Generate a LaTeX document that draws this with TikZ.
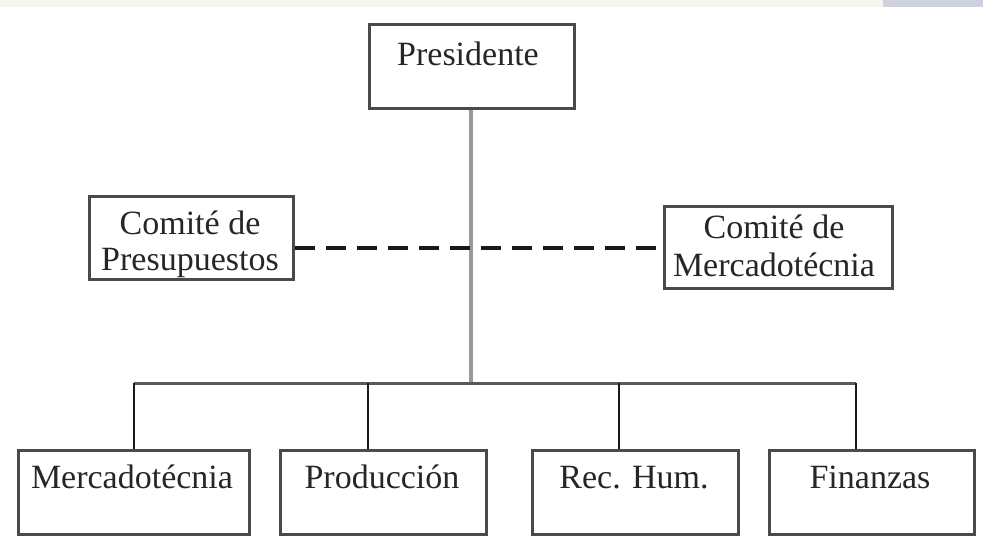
\documentclass[tikz,border=0pt]{standalone}
\usepackage{fontspec}
\setmainfont{Liberation Serif}
\definecolor{bandbeige}{HTML}{F7F4EF}
\definecolor{bandblue}{HTML}{CDD2DE}
\definecolor{boxline}{HTML}{4A4A4A}
\begin{document}
\begin{tikzpicture}[x=1pt,y=-1pt,
  box/.style={draw=boxline, line width=3pt, anchor=north west, inner sep=0pt, fill=white},
  lbl/.style={font=\fontsize{34}{38}\selectfont, anchor=base, inner sep=0pt, text=black!85},
  trunk/.style={draw=black!40, line width=3.5pt},
  wire/.style={draw=black!65, line width=3pt},
  drop/.style={draw=black!90, line width=2.8pt},
  dashline/.style={draw=black!90, line width=3.5pt, dash pattern=on 20pt off 11pt}]
\useasboundingbox (0,0) rectangle (983,538);
\fill[bandbeige] (0,0) rectangle (883,7);
\fill[bandblue] (883,0) rectangle (983,7);
% boxes
\node[box, minimum width=205pt, minimum height=84pt] (pres) at (368,23) {};
\node[box, minimum width=204pt, minimum height=83pt] (presu) at (88,195) {};
\node[box, minimum width=228pt, minimum height=82pt] (merc) at (663,205) {};
\node[box, minimum width=231pt, minimum height=84pt] (mer) at (17,449) {};
\node[box, minimum width=206pt, minimum height=84pt] (prod) at (279,449) {};
\node[box, minimum width=206pt, minimum height=84pt] (rh) at (531,449) {};
\node[box, minimum width=205pt, minimum height=84pt] (fin) at (768,449) {};
% texts
\node[lbl] (tpres) at (468,65) {Presidente};
\node[lbl] (tpresu1) at (190,234) {Comité de};
\node[lbl] (tpresu2) at (190,270) {Presupuestos};
\node[lbl] (tmerc1) at (774,238) {Comité de};
\node[lbl] (tmerc2) at (774,276) {Mercadotécnia};
\node[lbl] (tmer) at (132,488) {Mercadotécnia};
\node[lbl] (tprod) at (382,488) {Producción};
\node[lbl] (trh) at (634,488) {Rec. Hum.};
\node[lbl] (tfin) at (870,488) {Finanzas};
% connectors
\coordinate (b1) at (134,383);
\coordinate (b2) at (368,383);
\coordinate (b3) at (619,383);
\coordinate (b4) at (856,383);
\coordinate (bm) at (471,383);
\coordinate (dsh) at (471,248);
\draw[trunk] (pres.south -| bm) -- (bm);
\draw[dashline] (dsh -| presu.east) -- (dsh -| merc.west);
\draw[wire] (b1) -- (b4);
\draw[drop] (b1) -- (b1 |- mer.north);
\draw[drop] (b2) -- (b2 |- prod.north);
\draw[drop] (b3) -- (b3 |- rh.north);
\draw[drop] (b4) -- (b4 |- fin.north);
\end{tikzpicture}
\end{document}
